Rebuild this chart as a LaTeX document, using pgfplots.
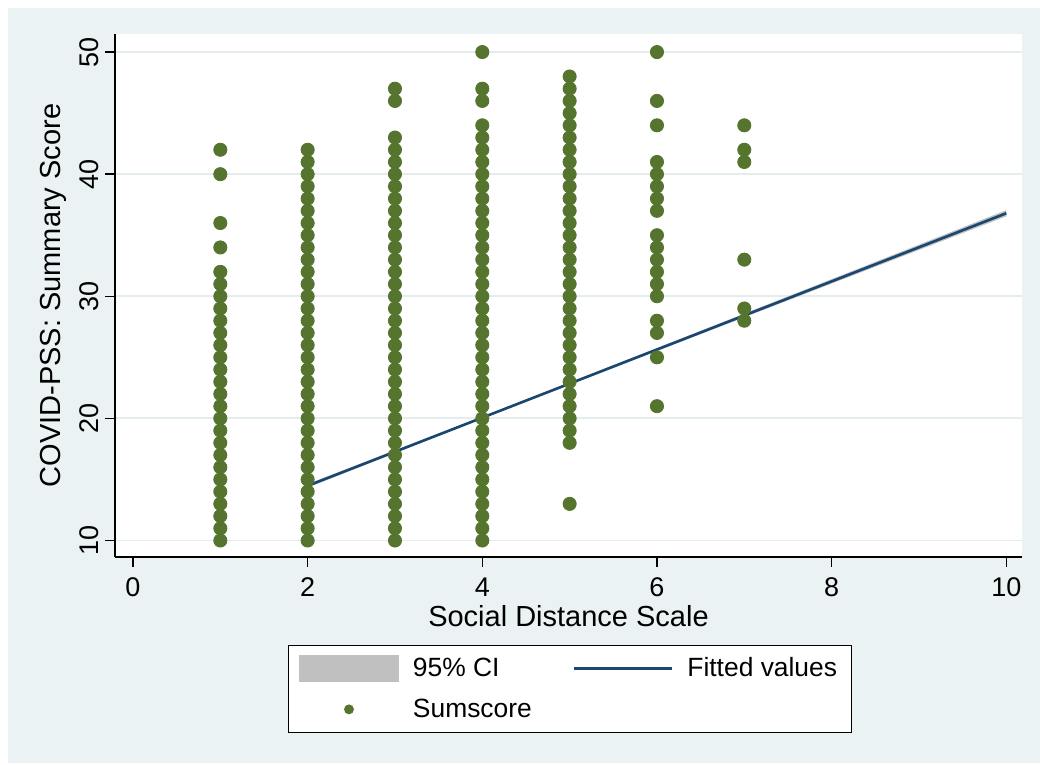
\documentclass[border=0pt]{standalone}
\usepackage{fontspec}
\setmainfont{Liberation Sans}
\usepackage{pgfplots}
\pgfplotsset{compat=1.18}

\definecolor{stbg}{RGB}{234,242,243}
\definecolor{stgrid}{RGB}{228,236,238}
\definecolor{stgreen}{RGB}{85,117,47}
\definecolor{stnavy}{RGB}{26,71,111}
\definecolor{stci}{RGB}{192,192,192}

\begin{document}
\begin{tikzpicture}
% page and graph region
\fill[white] (0pt,0pt) rectangle (520pt,382.5pt);
\fill[stbg] (4pt,1pt) rectangle (520pt,378.5pt);
\begin{axis}[
  at={(57.5pt,104pt)}, anchor=south west,
  scale only axis, width=453.5pt, height=261.5pt,
  xmin=-0.206, xmax=10.18, ymin=8.65, ymax=51.48,
  axis background/.style={fill=white},
  axis x line*=bottom, axis y line*=left,
  axis line style={black, line width=0.8pt, -},
  xtick={0,2,...,10}, ytick={10,20,...,50},
  tick align=outside, major tick length=5pt,
  tick style={black, line width=0.7pt},
  ymajorgrids, grid style={stgrid, line width=0.9pt},
  /pgf/number format/assume math mode=true,
  tick label style={font=\fontsize{13.5}{16}\selectfont},
  xticklabel style={anchor=north, inner sep=0pt, yshift=-5.3pt},
  yticklabel style={xshift=-3pt, rotate=90, anchor=base, inner sep=0pt},
  xlabel={Social Distance Scale},
  ylabel={COVID-PSS: Summary Score},
  xlabel style={at={(axis description cs:0.5,-0.132)}, anchor=base, inner sep=0pt, font=\fontsize{14.5}{17}\selectfont},
  ylabel style={at={(axis description cs:-0.060,0.5)}, anchor=base, inner sep=0pt, font=\fontsize{14.5}{17}\selectfont},
  legend columns=2,
  legend style={
    at={(0.5017,-0.1683)}, anchor=north,
    draw=black, line width=0.5pt, fill=white,
    font=\fontsize{13.2}{15.8}\selectfont,
    inner xsep=5pt, inner ysep=4pt,
    row sep=5.5pt, column sep=5pt,
    /tikz/every even column/.append style={column sep=18.6pt},
    cells={anchor=west},
  },
]

% 95% confidence band of the linear fit
\addplot[draw=none, fill=stci,
  legend image code/.code={\fill[stci] (0pt,-6.75pt) rectangle (50pt,6.75pt);}]
  coordinates {(2,14.63) (4,20.14) (6,25.76) (8,31.40) (10,37.05)
               (10,36.55) (8,31.04) (6,25.52) (4,19.98) (2,14.33)} -- cycle;
\addlegendentry{95\% CI}

% fitted values
\addplot[stnavy, line width=1.3pt,
  legend image code/.code={\draw[stnavy, line width=1.2pt] (0pt,0pt) -- (49pt,0pt);}]
  coordinates {(2,14.48) (10,36.80)};
\addlegendentry{Fitted values}

% observed summary scores
\addplot[only marks, mark=*, mark size=3.3pt, mark options={draw=stgreen, fill=stgreen},
  legend image code/.code={\path[draw=none, fill=none] (0pt,0pt) -- (50pt,0pt); \fill[stgreen] (25pt,0pt) circle (2.2pt);}]
  coordinates {
  (1,10) (1,11) (1,12) (1,13) (1,14) (1,15) (1,16) (1,17) (1,18) (1,19) (1,20) (1,21)
  (1,22) (1,23) (1,24) (1,25) (1,26) (1,27) (1,28) (1,29) (1,30) (1,31) (1,32)
  (1,34) (1,36) (1,40) (1,42)
  (2,10) (2,11) (2,12) (2,13) (2,14) (2,15) (2,16) (2,17) (2,18) (2,19) (2,20) (2,21)
  (2,22) (2,23) (2,24) (2,25) (2,26) (2,27) (2,28) (2,29) (2,30) (2,31) (2,32) (2,33)
  (2,34) (2,35) (2,36) (2,37) (2,38) (2,39) (2,40) (2,41) (2,42)
  (3,10) (3,11) (3,12) (3,13) (3,14) (3,15) (3,16) (3,17) (3,18) (3,19) (3,20) (3,21)
  (3,22) (3,23) (3,24) (3,25) (3,26) (3,27) (3,28) (3,29) (3,30) (3,31) (3,32) (3,33)
  (3,34) (3,35) (3,36) (3,37) (3,38) (3,39) (3,40) (3,41) (3,42) (3,43) (3,46) (3,47)
  (4,10) (4,11) (4,12) (4,13) (4,14) (4,15) (4,16) (4,17) (4,18) (4,19) (4,20) (4,21)
  (4,22) (4,23) (4,24) (4,25) (4,26) (4,27) (4,28) (4,29) (4,30) (4,31) (4,32) (4,33)
  (4,34) (4,35) (4,36) (4,37) (4,38) (4,39) (4,40) (4,41) (4,42) (4,43) (4,44)
  (4,46) (4,47) (4,50)
  (5,13) (5,18) (5,19) (5,20) (5,21) (5,22) (5,23) (5,24) (5,25) (5,26) (5,27) (5,28)
  (5,29) (5,30) (5,31) (5,32) (5,33) (5,34) (5,35) (5,36) (5,37) (5,38) (5,39) (5,40)
  (5,41) (5,42) (5,43) (5,44) (5,45) (5,46) (5,47) (5,48)
  (6,21) (6,25) (6,27) (6,28) (6,30) (6,31) (6,32) (6,33) (6,34) (6,35)
  (6,37) (6,38) (6,39) (6,40) (6,41) (6,44) (6,46) (6,50)
  (7,28) (7,29) (7,33) (7,41) (7,42) (7,44)
  };
\addlegendentry{Sumscore}
\end{axis}
\end{tikzpicture}
\end{document}
